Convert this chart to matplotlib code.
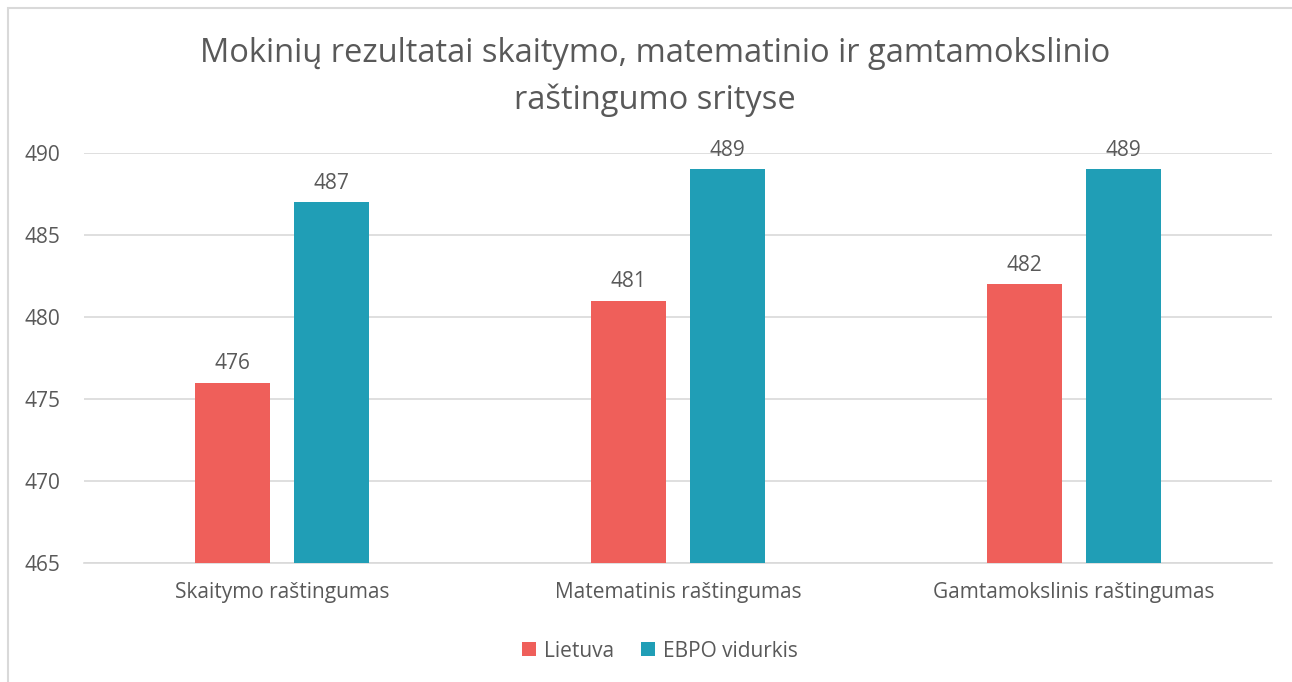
import numpy as np
import matplotlib.pyplot as plt
from matplotlib.patches import Rectangle

plt.rcParams['font.family'] = ['Open Sans', 'DejaVu Sans']

categories = ["Skaitymo raštingumas", "Matematinis raštingumas", "Gamtamokslinis raštingumas"]
lietuva = [476, 481, 482]
ebpo = [487, 489, 489]
series_names = ["Lietuva", "EBPO vidurkis"]
colors = ["#EF5F5A", "#209EB6"]
yticks = [465, 470, 475, 480, 485, 490]

text_color = "#595959"
grid_color = "#D9D9D9"

fig = plt.figure(figsize=(12.92, 6.82), dpi=100)
ax = fig.add_axes([0.065, 0.1745, 0.9195, 0.6012])

# outer chart border
fig.patches.append(Rectangle((8 / 1292, -0.1), 1.2, 1 - 8 / 682 + 0.1, transform=fig.transFigure,
                             fill=False, edgecolor=grid_color, linewidth=1.5))

x = np.arange(len(categories))
w = 0.187
off = 0.125
for vals, dx, col, name in zip([lietuva, ebpo], [-off, off], colors, series_names):
    bars = ax.bar(x + dx, vals, width=w, color=col, label=name, zorder=3)
    for b, v in zip(bars, vals):
        ax.text(b.get_x() + b.get_width() / 2, v + 0.5, str(v), ha="center", va="bottom",
                fontsize=15, color=text_color)

ax.set_xlim(-0.5, 2.5)
ax.set_ylim(465, 490)
ax.set_yticks(yticks)
ax.set_xticks(x)
ax.set_xticklabels(categories)
ax.tick_params(axis="both", length=0, labelsize=15, labelcolor=text_color)
ax.tick_params(axis="x", pad=14)
ax.tick_params(axis="y", pad=17)
ax.grid(axis="y", color=grid_color, linewidth=1.2, zorder=0)
for s in ["top", "right", "left"]:
    ax.spines[s].set_visible(False)
ax.spines["bottom"].set_color(grid_color)
ax.spines["bottom"].set_linewidth(1.2)

fig.text(0.507, 0.887, "Mokinių rezultatai skaitymo, matematinio ir gamtamokslinio\nraštingumo srityse",
         ha="center", va="center", fontsize=23.5, color=text_color, linespacing=1.5)

ax.legend(loc="center", bbox_to_anchor=(0.485, -0.215), ncol=2, frameon=False, fontsize=15,
          labelcolor=text_color, handlelength=0.65, handleheight=0.65, columnspacing=1.3, handletextpad=0.4)

fig.savefig("out.png", dpi=100)
